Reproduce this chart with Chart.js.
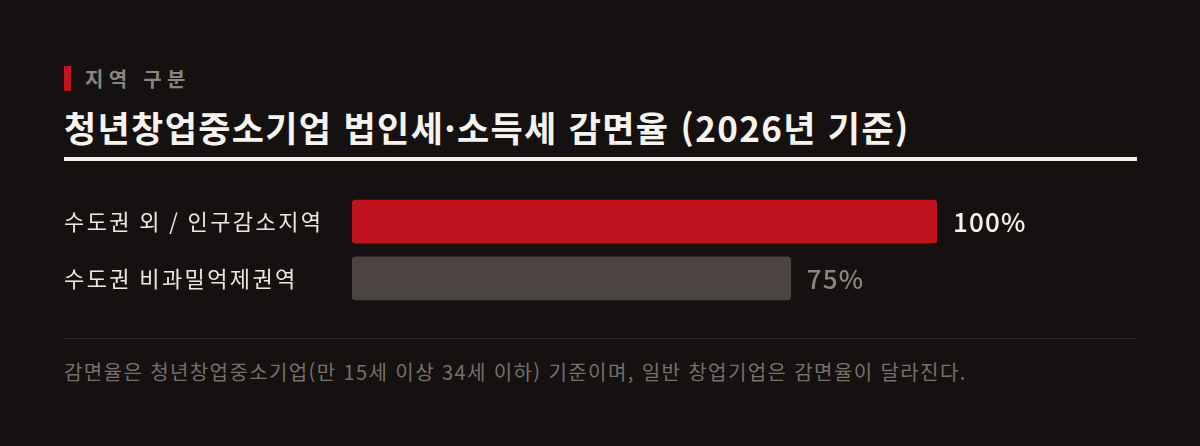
<!DOCTYPE html>
<html lang="ko">
<head>
<meta charset="utf-8">
<script src="https://cdn.jsdelivr.net/npm/chart.js@4/dist/chart.umd.min.js"></script>
<style>
  html, body { margin: 0; padding: 0; background: #141110; }
  body { width: 1200px; height: 446px; position: relative; overflow: hidden;
         font-family: "Noto Sans CJK KR", "Noto Sans", sans-serif; }
  .kicker { position: absolute; left: 64px; top: 64px; height: 28px; display: flex; align-items: center; }
  .kicker .mark { width: 7px; height: 25px; background: #c0121f; margin-right: 14px; }
  .kicker span { color: #8b847f; font-size: 20px; font-weight: 700; letter-spacing: 5.3px; }
  .title { position: absolute; left: 64px; top: 105px; color: #f6f3ee; font-size: 35px; font-weight: 700;
           letter-spacing: 1.35px; line-height: 44px; white-space: nowrap; }
  .rule { position: absolute; left: 64px; top: 157px; width: 1073px; height: 4px; background: #f3efe8; }
  .chartbox { position: absolute; left: 64px; top: 180px; width: 1073px; height: 140px; }
  .divider { position: absolute; left: 64px; top: 338px; width: 1073px; height: 1px; background: #2c2826; }
  .note { position: absolute; left: 64px; top: 358px; color: #77706b; font-size: 20px; letter-spacing: 1.4px;
          line-height: 28px; white-space: nowrap; }
</style>
</head>
<body>
<div class="kicker"><div class="mark"></div><span>지역 구분</span></div>
<div class="title">청년창업중소기업 법인세·소득세 감면율 (2026년 기준)</div>
<div class="rule"></div>
<div class="chartbox"><canvas id="myChart"></canvas></div>
<div class="divider"></div>
<div class="note">감면율은 청년창업중소기업(만 15세 이상 34세 이하) 기준이며, 일반 창업기업은 감면율이 달라진다.</div>

<script>
const regions = ["수도권 외 / 인구감소지역", "수도권 비과밀억제권역"];
const rates = [100, 75];
const barColors = ["#c0121f", "#4b4440"];
const valueColors = ["#f6f3ee", "#8b847f"];

/* 축 라벨 자간 */
const spacing = {
  id: "spacing",
  beforeDraw(chart) { chart.ctx.letterSpacing = "2.4px"; }
};

/* 막대 끝에 값 표시 */
const valueLabels = {
  id: "valueLabels",
  afterDatasetsDraw(chart) {
    const ctx = chart.ctx;
    const meta = chart.getDatasetMeta(0);
    ctx.save();
    ctx.letterSpacing = "1.2px";
    ctx.font = "500 26px 'Noto Sans CJK KR', sans-serif";
    ctx.textBaseline = "middle";
    ctx.textAlign = "left";
    meta.data.forEach((bar, i) => {
      ctx.fillStyle = valueColors[i];
      ctx.fillText(rates[i] + "%", bar.x + 16, bar.y + 1);
    });
    ctx.restore();
  }
};

const config = {
  type: "bar",
  data: {
    labels: regions,
    datasets: [{
      data: rates,
      backgroundColor: barColors,
      borderRadius: 4,
      borderSkipped: false,
      barThickness: 43
    }]
  },
  options: {
    indexAxis: "y",
    responsive: false,
    animation: false,
    devicePixelRatio: 1,
    layout: { padding: { top: 9.5, bottom: 10.5, right: 200, left: 0 } },
    plugins: { legend: { display: false }, tooltip: { enabled: false } },
    scales: {
      x: { display: false, min: 0, max: 100 },
      y: {
        grid: { display: false },
        border: { display: false },
        ticks: {
          crossAlign: "far",
          color: "#ece8e2",
          padding: 0,
          font: { family: "'Noto Sans CJK KR', sans-serif", size: 22 }
        },
        afterFit(scale) { scale.width = 288; }
      }
    }
  },
  plugins: [spacing, valueLabels]
};

const canvas = document.getElementById("myChart");
canvas.width = 1073;
canvas.height = 140;
new Chart(canvas, config);
</script>
</body>
</html>
